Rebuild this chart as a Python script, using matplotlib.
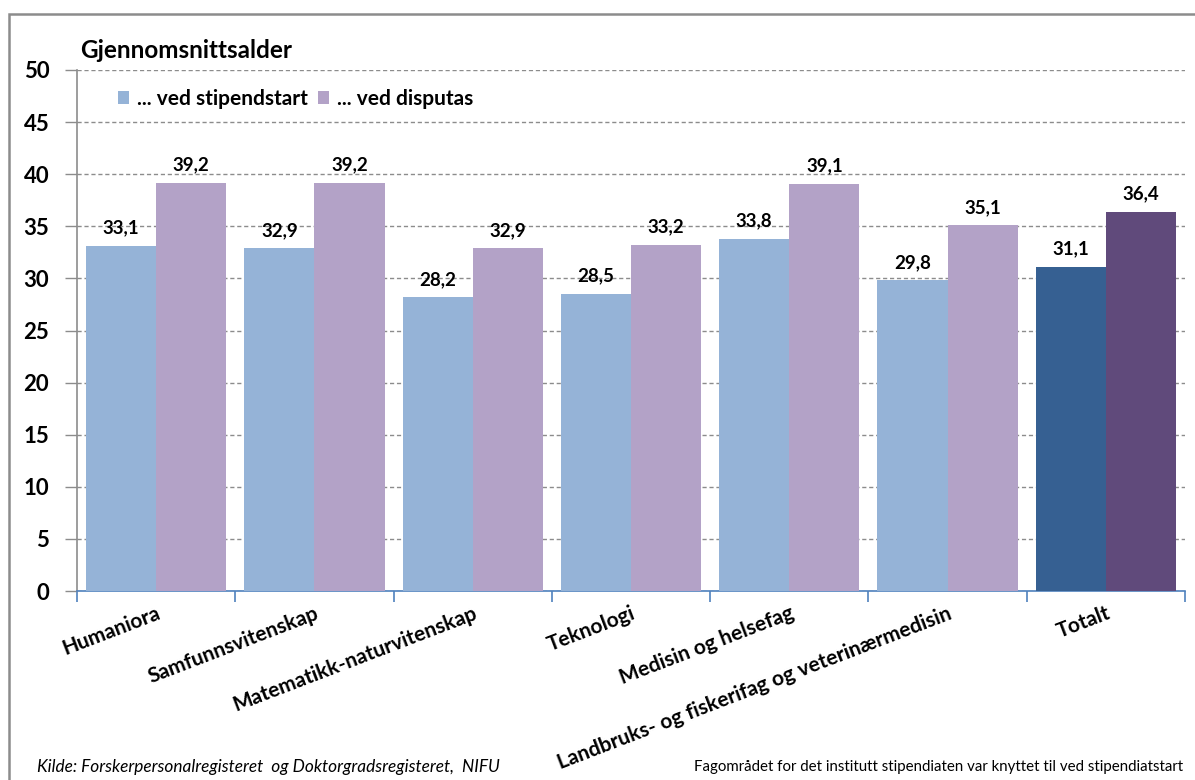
import matplotlib
matplotlib.use("Agg")
import matplotlib.pyplot as plt
import numpy as np
from matplotlib.patches import Rectangle, Patch

plt.rcParams['font.family'] = ['Lato', 'DejaVu Sans']

categories = ["Humaniora", "Samfunnsvitenskap", "Matematikk-naturvitenskap", "Teknologi",
              "Medisin og helsefag", "Landbruks- og fiskerifag og veterinærmedisin", "Totalt"]
stipendstart = [33.1, 32.9, 28.2, 28.5, 33.8, 29.8, 31.1]
disputas = [39.2, 39.2, 32.9, 33.2, 39.1, 35.1, 36.4]
labels_start = ["33,1", "32,9", "28,2", "28,5", "33,8", "29,8", "31,1"]
labels_disp = ["39,2", "39,2", "32,9", "33,2", "39,1", "35,1", "36,4"]
yticks = [0, 5, 10, 15, 20, 25, 30, 35, 40, 45, 50]

c_start = ["#95B3D7"] * 6 + ["#366092"]
c_disp = ["#B3A2C7"] * 6 + ["#604A7B"]

fig = plt.figure(figsize=(11.95, 7.8), dpi=100)
ax = fig.add_axes([77/1195, 1-591/780, (1185-77)/1195, (591-70)/780])

x = np.arange(len(categories))
w = 0.443
ax.bar(x - w/2, stipendstart, width=w, color=c_start, zorder=3)
ax.bar(x + w/2, disputas, width=w, color=c_disp, zorder=3)

for xi, v, t in zip(x, stipendstart, labels_start):
    ax.text(xi - w/2, v + 0.9, t, ha='center', va='bottom', fontsize=13.5, fontweight='bold')
for xi, v, t in zip(x, disputas, labels_disp):
    ax.text(xi + w/2, v + 0.9, t, ha='center', va='bottom', fontsize=13.5, fontweight='bold')

ax.set_xlim(-0.5, len(categories) - 0.5)
ax.set_ylim(0, 50)
ax.set_yticks(yticks)
ax.set_yticklabels([str(t) for t in yticks], fontsize=16, fontweight='bold')
ax.yaxis.grid(True, linestyle=(0, (3, 2)), color='#8C8C8C', linewidth=1, zorder=0)
ax.set_axisbelow(True)

ax.set_xticks(x)
ax.set_xticklabels(categories, rotation=21, ha='right', rotation_mode='anchor',
                   fontsize=15, fontweight='bold')
ax.tick_params(axis='x', which='major', length=0, pad=9)
ax.set_xticks(np.arange(-0.5, len(categories)), minor=True)
ax.tick_params(axis='x', which='minor', length=8, color='#4F81BD', width=1.2)
ax.tick_params(axis='y', length=9, color='#8C8C8C', width=1, pad=11)

for s in ['top', 'right']:
    ax.spines[s].set_visible(False)
ax.spines['left'].set_color('#8C8C8C')
ax.spines['left'].set_linewidth(1.2)
ax.spines['bottom'].set_color('#4F81BD')
ax.spines['bottom'].set_linewidth(1.2)

handles = [Patch(facecolor="#95B3D7"), Patch(facecolor="#B3A2C7")]
ax.legend(handles, ["... ved stipendstart", "... ved disputas"], loc='upper left',
          bbox_to_anchor=(0.02, 1.0), ncol=2, frameon=False,
          prop={'weight': 'bold', 'size': 15}, handlelength=0.55, handleheight=0.55,
          handletextpad=0.35, columnspacing=0.5)

fig.text(80/1195, 1-50/780, "Gjennomsnittsalder", fontsize=17.5, fontweight='bold',
         ha='left', va='center')
fig.text(37/1195, 1-767/780, "Kilde: Forskerpersonalregisteret  og Doktorgradsregisteret,  NIFU",
         fontsize=12.4, style='italic', ha='left', va='center')
fig.text(1183/1195, 1-767/780,
         "Fagområdet for det institutt stipendiaten var knyttet til ved stipendiatstart",
         fontsize=10.8, ha='right', va='center')

fig.patches.append(Rectangle((9/1195, -0.1), 2, 1-14/780 + 0.1, transform=fig.transFigure,
                             fill=False, edgecolor='#8C8C8C', linewidth=1.8))

fig.savefig("out.png", dpi=100)
